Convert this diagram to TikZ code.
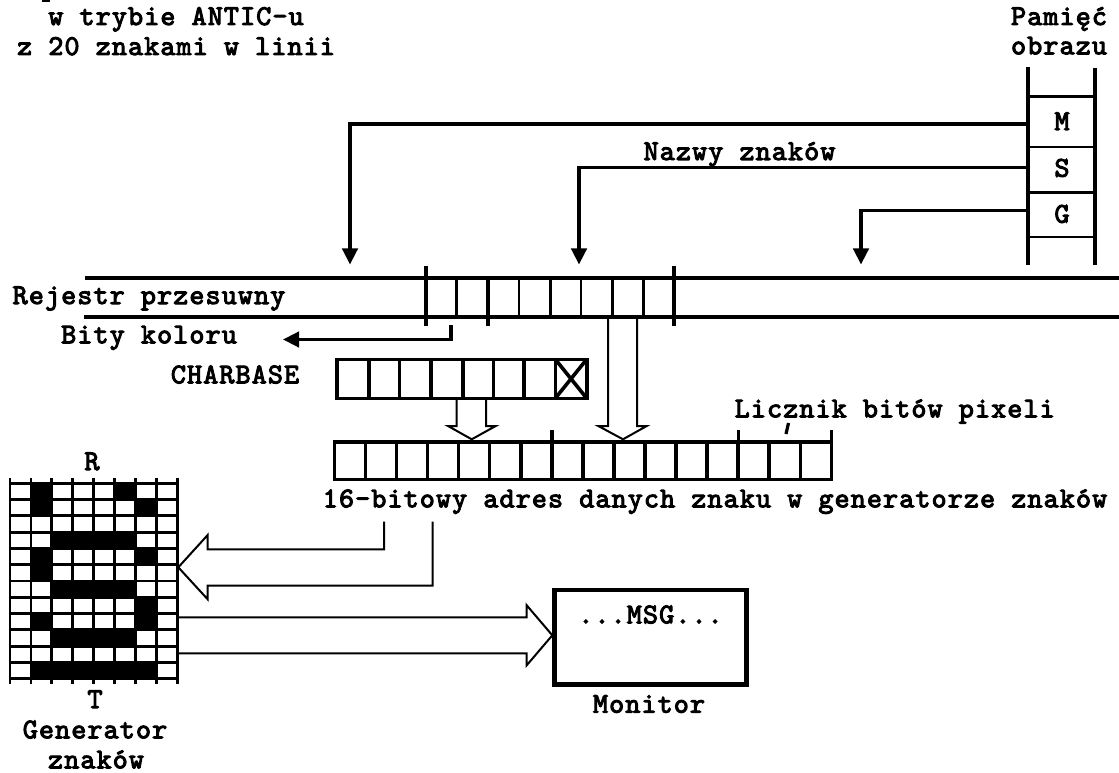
\documentclass[tikz,border=0pt]{standalone}
\usepackage{fontspec}
\newfontfamily\labelfont{lmmono10-regular}[Extension=.otf,FakeBold=3.5,LetterSpace=3.9,Ligatures=NoCommon]
\usetikzlibrary{arrows.meta}
\tikzset{
  txt/.style={anchor=base,inner sep=0pt,font=\fontsize{21.5}{24}\selectfont\labelfont},
  heavy/.style={line width=2.7pt},
  grid line/.style={line width=2.1pt},
  hollow/.style={line width=1.5pt,line join=miter},
  feed/.style={line width=2.5pt,-{Triangle[length=12pt,width=11.5pt]}},
}
\begin{document}
\begin{tikzpicture}[x=0.75pt,y=-0.75pt]
\useasboundingbox (0,0) rectangle (1119,773);
% clipped first line remnant
\fill (42,0) rectangle (50,2);
% labels
\node[txt] (l1) at (176,25) {w trybie ANTIC-u};
\node[txt] (l2) at (176,55) {z 20 znakami w linii};
\node[txt] (pam) at (1059,25) {Pamięć};
\node[txt] (obr) at (1059,54.3) {obrazu};
\node[txt] (nazwy) at (739.5,160) {Nazwy znaków};
\node[txt] (rej) at (149,304) {Rejestr przesuwny};
\node[txt] (bity) at (149,343.3) {Bity koloru};
\node[txt] (cb) at (235,383.3) {CHARBASE};
\node[txt] (licz) at (894.7,417.3) {Licznik bitów pixeli};
\node[txt] (adr) at (715,507.3) {16-bitowy adres danych znaku w generatorze znaków};
\node[txt] (R) at (92,470) {R};
\node[txt] (T) at (95,708) {T};
\node[txt] (gen) at (95,738.3) {Generator};
\node[txt] (zn) at (96,768.3) {znaków};
\node[txt] (msg) at (650.5,623.3) {...MSG...};
\node[txt] (mon) at (649,712.7) {Monitor};
\node[txt] (M) at (1062,130) {M};
\node[txt] (S) at (1062,176.7) {S};
\node[txt] (G) at (1062,222.7) {G};
% memory
\draw[heavy] (1027.7,66.7) -- (1027.7,265);
\draw[heavy] (1095,67.7) -- (1095,265);
\foreach \yy in {96.7,147,192.3,237} \draw[grid line] (1027.7,\yy) -- (1095,\yy);
% shift register
\draw[heavy] (85,278) -- (1119,278);
\draw[heavy] (84,316.7) -- (1119,316.7);
\foreach \xx in {425.7,673.7} \draw[heavy] (\xx,266) -- (\xx,326);
\foreach \xx in {456.7,519,550.3,581,612.3,643.3} \draw[grid line] (\xx,278) -- (\xx,316.7);
\draw[heavy] (487.7,278) -- (487.7,326);
% feed arrows
\coordinate (mM) at (1027.7,124);
\coordinate (mS) at (1027.7,167.5);
\coordinate (mG) at (1027.7,210.5);
\coordinate (tM) at (350,264.5);
\coordinate (tS) at (579,264.5);
\coordinate (tG) at (861,264.5);
\draw[feed] (mM) -| (tM);
\draw[feed] (mS) -| (tS);
\draw[feed] (mG) -| (tG);
% colour bits
\coordinate (cbA) at (451,325);
\coordinate (cbB) at (283,339.5);
\draw[feed] (cbA) |- (cbB);
% charbase
\draw[heavy] (336.7,359.3) rectangle (586.7,398.3);
\foreach \xx in {369,399.3,430.7,462.7,493.3,524,555.3} \draw[heavy] (\xx,359.3) -- (\xx,398.3);
\draw[heavy] (555.3,359.3) -- (586.7,398.3) (555.3,398.3) -- (586.7,359.3);
% hollow down arrows
\draw[hollow] (456.7,398.3) -- (456.7,426) -- (448,426) -- (471.7,439.3) -- (495.7,426) -- (486,426) -- (486,398.3);
\draw[hollow] (608,316.7) -- (608,426) -- (598.3,426) -- (623,439.3) -- (646.7,426) -- (637,426) -- (637,316.7);
% address register
\draw[heavy] (334.3,441.7) rectangle (831.4,479.3);
\foreach \i in {1,...,15} \draw[heavy] ({334.3+31.07*\i},441.7) -- ({334.3+31.07*\i},479.3);
\foreach \xx in {552,738.3,831.4} \draw[heavy] (\xx,430) -- (\xx,441.7);
\draw[line width=2.4pt] (788.5,423) -- (786,434);
% character grid
\foreach \r/\a/\b in {0/1/1,0/5/5,1/1/1,1/6/6,3/2/5,4/1/1,4/6/6,5/1/1,6/2/5,7/6/6,8/1/1,8/6/6,9/2/5,11/1/6}
  \fill ({10+20.92*\a},{483.3+16.28*\r}) rectangle ({10+20.92*(\b+1)},{483.3+16.28*(\r+1)});
\foreach \i in {0,...,8} \draw[grid line] ({10+20.92*\i},478) -- ({10+20.92*\i},684);
\foreach \j in {0,...,12} \draw[grid line] (10,{483.3+16.28*\j}) -- (177.4,{483.3+16.28*\j});
% hollow arrow into generator
\draw[hollow] (384,521.7) -- (384,549.3) -- (207.7,549.3) -- (207.7,535) -- (178.3,567.3) -- (207.7,599.3) -- (207.7,585.7) -- (432.7,585.7) -- (432.7,521.7);
% hollow arrow to monitor
\draw[hollow] (178,617.3) -- (526.7,617.3) -- (526.7,605.3) -- (552.3,635.3) -- (526.7,665.3) -- (526.7,653.3) -- (178,653.3);
% monitor
\draw[line width=3.6pt] (554.5,590) rectangle (746.7,684.5);
\end{tikzpicture}
\end{document}
